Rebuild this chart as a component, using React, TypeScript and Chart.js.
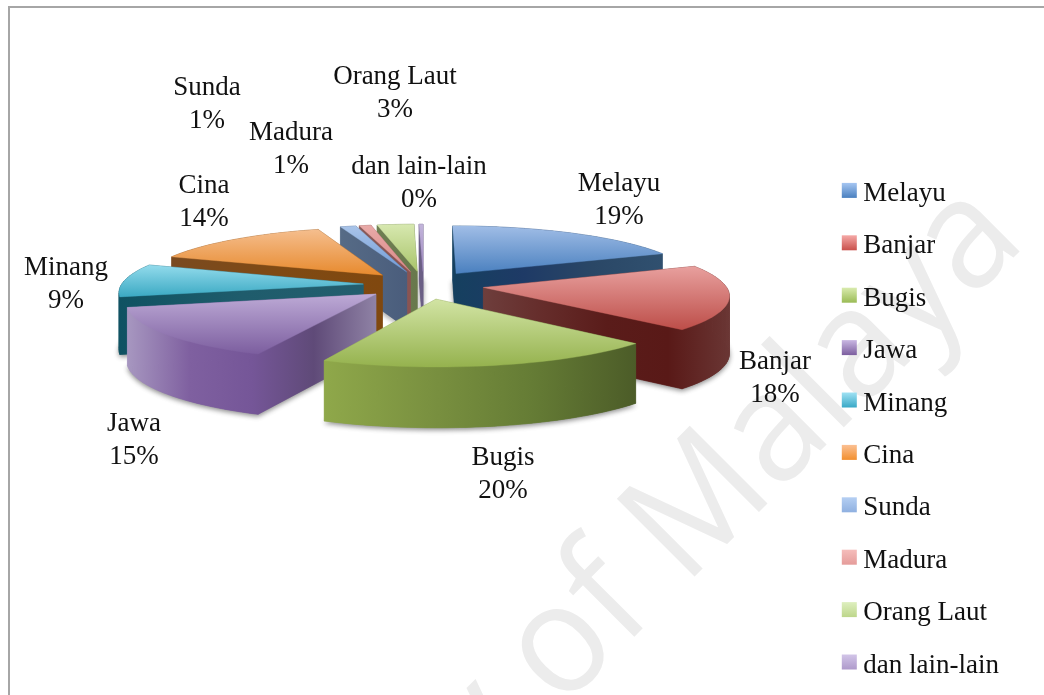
import React, { useEffect, useRef } from "react";
import { Chart, registerables } from "chart.js";

Chart.register(...registerables);

const categories = ["Melayu", "Banjar", "Bugis", "Jawa", "Minang", "Cina", "Sunda", "Madura", "Orang Laut", "dan lain-lain"];
const shares = [18.6, 18.4, 19.6, 14.8, 9.4, 14.0, 1.2, 0.9, 2.8, 0.3];
const topLight = ["#A0BDE6", "#E8A09E", "#D2E4A4", "#BDAAD6", "#93DBEC", "#F5BE8E", "#A9C4E9", "#E9AAA8", "#D7E8B0", "#C3B5DB"];
const topBase = ["#4A80BF", "#BD4E49", "#95B24E", "#7C5E9F", "#3BA9C3", "#E78A2E", "#6F9AD6", "#D98A88", "#A9C46A", "#9C86BE"];
const legendLight = ["#A6C6F2", "#F5A9A7", "#D9EBAE", "#C9B7E2", "#A0E2F4", "#FBC093", "#B5CFF3", "#F5BDBB", "#DEEFBF", "#D2C5E8"];
const legendBase = ["#4A80BF", "#C9504B", "#9ABB55", "#7C5E9F", "#38A8C6", "#F28F2E", "#8FB0E0", "#E59C9A", "#BDD68A", "#AE9ACB"];
const sideStops = [
  ["#15405F", "#1E3A66", "#2A4766", "#30506F"],
  ["#6E3E3C", "#652C2A", "#5A1C1A", "#591917", "#6A3634"],
  ["#8FA84A", "#7A9140", "#657C35", "#4C5C28"],
  ["#A797C0", "#7F60A0", "#755698", "#5F4A78", "#8F82A5"],
  ["#0F5262", "#1F5C6C", "#235E6E"],
  ["#7A4A20", "#7F4A14", "#80480F"],
  ["#566B86", "#4A5D7C"],
  ["#8A5A58", "#8A5452"],
  ["#6E7E52", "#68784C"],
  ["#6B5F85", "#6B5F85"],
];
const labelLayout = [
  [619, 184], [775, 362], [503, 458], [134, 424], [66, 268],
  [204, 186], [207, 88], [291, 133], [395, 77], [419, 167],
];

const view = { cx: 423.5, cy: 285, rx: 242, ry: 56, persp: 0.12, depth: 57, depthPersp: 0.4, explode: 0.25 };

function project(X: number, Y: number, z: number) {
  const s = 1 / (1 + view.persp * Y);
  return {
    x: view.cx + view.rx * X * s,
    y: view.cy - view.ry * Y * s + z * view.depth * Math.pow(s, view.depthPersp),
  };
}

function fillPoly(ctx: CanvasRenderingContext2D, pts: { x: number; y: number }[], fill: any) {
  ctx.beginPath();
  pts.forEach((p, i) => (i ? ctx.lineTo(p.x, p.y) : ctx.moveTo(p.x, p.y)));
  ctx.closePath();
  ctx.fillStyle = fill;
  ctx.fill();
  ctx.strokeStyle = fill;
  ctx.lineWidth = 0.4;
  ctx.stroke();
}

const pie3d = {
  id: "pie3d",
  beforeDatasetsDraw(chart: any) {
    const ctx: CanvasRenderingContext2D = chart.ctx;
    const arcs = chart.getDatasetMeta(0).data;
    const slices = arcs.map((arc: any, i: number) => {
      const a0 = arc.startAngle + Math.PI / 2;
      const a1 = arc.endAngle + Math.PI / 2;
      const m = (a0 + a1) / 2;
      const ox = view.explode * Math.sin(m);
      const oy = view.explode * Math.cos(m);
      const n = Math.max(1, Math.ceil((a1 - a0) / (Math.PI / 90)));
      const rim: { X: number; Y: number }[] = [];
      for (let k = 0; k <= n; k++) {
        const t = a0 + ((a1 - a0) * k) / n;
        rim.push({ X: ox + Math.sin(t), Y: oy + Math.cos(t) });
      }
      return { i, ox, oy, rim };
    });
    slices.sort((a: any, b: any) => b.oy - a.oy);
    slices.forEach((sl: any) => {
      const { i, ox, oy, rim } = sl;
      const apex = { X: ox, Y: oy };
      const topPts = [apex, ...rim].map((p: any) => project(p.X, p.Y, 0));
      const botPts = [apex, ...rim].map((p: any) => project(p.X, p.Y, 1));
      const all = [...topPts, ...botPts];
      const minX = Math.min(...all.map((p) => p.x));
      const maxX = Math.max(...all.map((p) => p.x));
      const minY = Math.min(...topPts.map((p) => p.y));
      const maxY = Math.max(...topPts.map((p) => p.y));
      const sg = ctx.createLinearGradient(minX, 0, maxX, 0);
      sideStops[i].forEach((c, k, arr) => sg.addColorStop(k / (arr.length - 1), c));

      const faces: { d: number; pts: { x: number; y: number }[] }[] = [];
      const quad = (p: any, q: any) => ({
        d: (p.Y + q.Y) / 2,
        pts: [project(p.X, p.Y, 0), project(q.X, q.Y, 0), project(q.X, q.Y, 1), project(p.X, p.Y, 1)],
      });
      faces.push(quad(apex, rim[0]));
      faces.push(quad(apex, rim[rim.length - 1]));
      for (let k = 0; k < rim.length - 1; k++) faces.push(quad(rim[k], rim[k + 1]));
      faces.sort((a, b) => b.d - a.d);

      ctx.save();
      ctx.shadowColor = "rgba(0,0,0,0.45)";
      ctx.shadowBlur = 5;
      ctx.shadowOffsetY = 2;
      fillPoly(ctx, botPts, sg);
      ctx.restore();
      faces.forEach((f) => fillPoly(ctx, f.pts, sg));

      const tg = ctx.createLinearGradient(0, minY, 0, maxY);
      tg.addColorStop(0, topLight[i]);
      tg.addColorStop(1, topBase[i]);
      fillPoly(ctx, topPts, tg);
    });
    return false;
  },
  afterDraw(chart: any) {
    const ctx: CanvasRenderingContext2D = chart.ctx;
    const boxes = chart.legend.legendHitBoxes;
    boxes.forEach((b: any, i: number) => {
      const y = b.top + b.height / 2 - 11;
      const g = ctx.createLinearGradient(0, y, 0, y + 15);
      g.addColorStop(0, legendLight[i]);
      g.addColorStop(1, legendBase[i]);
      ctx.fillStyle = g;
      ctx.fillRect(b.left, y, 15, 15);
    });
    const total = shares.reduce((a, b) => a + b, 0);
    ctx.save();
    ctx.font = '27px "Liberation Serif"';
    ctx.fillStyle = "#111";
    ctx.textAlign = "center";
    ctx.textBaseline = "middle";
    categories.forEach((name, i) => {
      const [x, y] = labelLayout[i];
      ctx.fillText(name, x, y);
      ctx.fillText(`${Math.round((shares[i] / total) * 100)}%`, x, y + 33);
    });
    ctx.restore();
  },
};

const pageBackdrop = {
  id: "pageBackdrop",
  beforeDraw(chart: any) {
    const ctx: CanvasRenderingContext2D = chart.ctx;
    const { width, height } = chart;
    ctx.save();
    ctx.fillStyle = "#fff";
    ctx.fillRect(0, 0, width, height);
    ctx.fillStyle = "#ececec";
    ctx.font = '154px "Open Sans"';
    ctx.textAlign = "right";
    ctx.textBaseline = "alphabetic";
    ctx.translate(1028, 243);
    ctx.rotate((-45 * Math.PI) / 180);
    ctx.scale(0.95, 1);
    ctx.fillText("University of Malaya", 0, 0);
    ctx.restore();
    ctx.fillStyle = "#a6a6a6";
    ctx.fillRect(8, 6, width - 8, 2);
    ctx.fillRect(8, 6, 2, height - 6);
  },
};

export default function App() {
  const ref = useRef<HTMLCanvasElement>(null);
  useEffect(() => {
    const chart = new Chart(ref.current!, {
      type: "pie",
      data: {
        labels: categories,
        datasets: [{ data: shares, backgroundColor: topBase, borderWidth: 0 }],
      },
      options: {
        responsive: false,
        animation: false,
        layout: { padding: { top: 155, right: 35, bottom: -40 } },
        plugins: {
          tooltip: { enabled: false },
          legend: {
            position: "right",
            align: "start",
            labels: {
              boxWidth: 8,
              boxHeight: 8,
              padding: 25.4,
              color: "#111",
              font: { family: '"Liberation Serif"', size: 27 },
              generateLabels: (c: any) =>
                c.data.labels.map((text: string, index: number) => ({
                  text,
                  index,
                  fillStyle: "rgba(0,0,0,0)",
                  strokeStyle: "rgba(0,0,0,0)",
                  lineWidth: 0,
                  fontColor: "#111",
                })),
            },
          },
        },
      } as any,
      plugins: [pageBackdrop, pie3d],
    });
    return () => chart.destroy();
  }, []);
  return (
    <div style={{ position: "absolute", left: 0, top: 0, width: 1044, height: 695, overflow: "hidden" }}>
      <canvas ref={ref} width={1044} height={695} style={{ display: "block" }} />
    </div>
  );
}
